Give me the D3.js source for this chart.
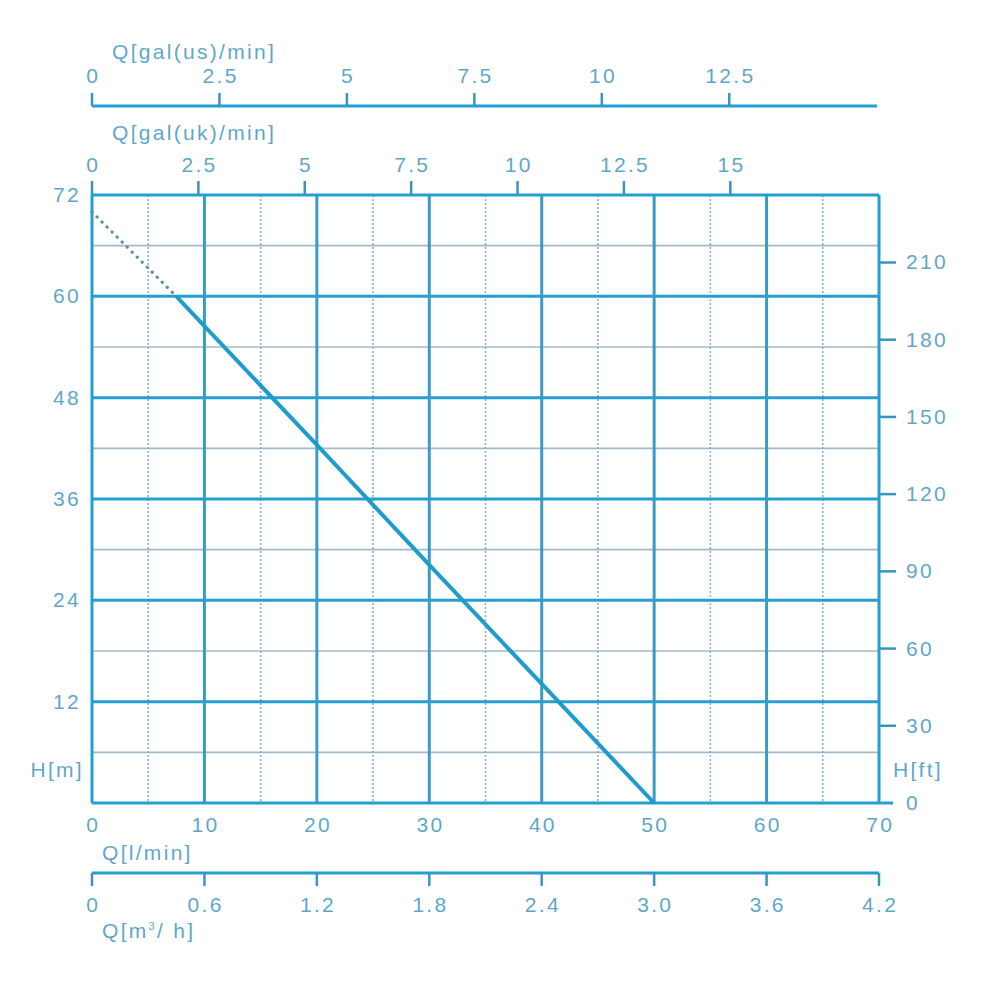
<!DOCTYPE html>
<html><head><meta charset="utf-8">
<script src="https://cdn.jsdelivr.net/npm/d3@7/dist/d3.min.js"></script>
<style>body{margin:0;background:#fff}svg{display:block}text{font-family:"Liberation Sans",Arial,sans-serif;font-size:21px;fill:#5fa7c8;letter-spacing:2.3px}</style>
</head><body>
<svg id="c" width="1000" height="1000"></svg>
<script>
// ---- data ----
const flowTicksLmin = [0,10,20,30,40,50,60,70];
const flowMinorLmin = [5,15,25,35,45,55,65];
const headTicksM = [12,24,36,48,60,72];
const headMinorM = [6,18,30,42,54,66];
const headTicksFt = [30,60,90,120,150,180,210];
const galUsTicks = [0,2.5,5,7.5,10,12.5];
const galUkTicks = [0,2.5,5,7.5,10,12.5,15];
const m3hTicks = [0,0.6,1.2,1.8,2.4,3.0,3.6,4.2];
const m3hLabels = ["0","0.6","1.2","1.8","2.4","3.0","3.6","4.2"];
// pump curve (Q l/min, H m)
const curveDotted = [[0,70],[7.5,60]];
const curveSolid = [[7.5,60],[20,42.4],[30,28.2],[40,14.1],[50,0]];
// conversion factors as drawn on the chart
const litresPerGalUsAxis = 4.546;
const litresPerGalUkAxis = 3.785;
const ftPerM = 3.28084;

const svg = d3.select("#c");
const L=92,R=879,T=195,B=803;
const LS=1.15; // half letter-spacing offset for centred labels
const x = d3.scaleLinear([0,70],[L,R]);
const y = d3.scaleLinear([0,72],[B,T]);
const yFt = d3.scaleLinear([0,72*ftPerM],[B,T]);
const xUs = d3.scaleLinear([0,70/litresPerGalUsAxis],[L,R-2]);
const xUk = d3.scaleLinear([0,70/litresPerGalUkAxis],[L,R]);
const xM3 = d3.scaleLinear([0,4.2],[L,R]);

const major="#259fd3", minorH="#9fbccb", minorV="#7fb6c9";

// minor gridlines
svg.append("g").selectAll("line").data(headMinorM).join("line")
 .attr("x1",L).attr("x2",R).attr("y1",d=>y(d)).attr("y2",d=>y(d))
 .attr("stroke",minorH).attr("stroke-width",1.6);
svg.append("g").selectAll("line").data(flowMinorLmin).join("line")
 .attr("x1",d=>x(d)).attr("x2",d=>x(d)).attr("y1",T).attr("y2",B)
 .attr("stroke",minorV).attr("stroke-width",1.6).attr("stroke-dasharray","2,2");
// major gridlines
svg.append("g").selectAll("line").data(headTicksM.filter(d=>d<72)).join("line")
 .attr("x1",L).attr("x2",R).attr("y1",d=>y(d)).attr("y2",d=>y(d))
 .attr("stroke",major).attr("stroke-width",3);
svg.append("g").selectAll("line").data(flowTicksLmin.filter(d=>d>0&&d<70)).join("line")
 .attr("x1",d=>x(d)).attr("x2",d=>x(d)).attr("y1",T).attr("y2",B)
 .attr("stroke","#3a9cc6").attr("stroke-width",3);
// frame
svg.append("line").attr("x1",L).attr("x2",R).attr("y1",T).attr("y2",T).attr("stroke",major).attr("stroke-width",3);
svg.append("line").attr("x1",L).attr("x2",L).attr("y1",T).attr("y2",B).attr("stroke",major).attr("stroke-width",3);
svg.append("line").attr("x1",R).attr("x2",R).attr("y1",T).attr("y2",B).attr("stroke",major).attr("stroke-width",3);
svg.append("line").attr("x1",L).attr("x2",R+14).attr("y1",B).attr("y2",B).attr("stroke",major).attr("stroke-width",3);

// curve
const line = d3.line().x(d=>x(d[0])).y(d=>y(d[1]));
svg.append("path").attr("d",line(curveDotted)).attr("fill","none").attr("stroke","#5a8fa6")
 .attr("stroke-width",3.2).attr("stroke-dasharray","0.1,7").attr("stroke-linecap","round");
svg.append("path").attr("d",line(curveSolid)).attr("fill","none").attr("stroke","#1e9ccb").attr("stroke-width",4);

// left axis labels
svg.append("g").selectAll("text").data(headTicksM).join("text")
 .attr("x",81).attr("y",d=>y(d)+7).attr("text-anchor","end").text(d=>d);
svg.append("text").attr("x",84).attr("y",777).attr("text-anchor","end").text("H[m]");
// right axis
svg.append("g").selectAll("line").data(headTicksFt).join("line")
 .attr("x1",R).attr("x2",R+17).attr("y1",d=>yFt(d)).attr("y2",d=>yFt(d))
 .attr("stroke","#3a95bb").attr("stroke-width",2.5);
svg.append("g").selectAll("text").data([0].concat(headTicksFt)).join("text")
 .attr("x",906).attr("y",d=>yFt(d)+7).text(d=>d);
svg.append("text").attr("x",893).attr("y",777).text("H[ft]");

// bottom l/min labels
svg.append("g").selectAll("text").data(flowTicksLmin).join("text")
 .attr("x",d=>x(d)+LS).attr("y",832).attr("text-anchor","middle").text(d=>d);
svg.append("text").attr("x",102).attr("y",860).text("Q[l/min]");
// m3/h axis
svg.append("line").attr("x1",xM3(0)).attr("x2",xM3(4.2)).attr("y1",873).attr("y2",873).attr("stroke",major).attr("stroke-width",3);
svg.append("g").selectAll("line").data(m3hTicks).join("line")
 .attr("x1",d=>xM3(d)).attr("x2",d=>xM3(d)).attr("y1",873).attr("y2",886)
 .attr("stroke","#3a95bb").attr("stroke-width",2.5);
svg.append("g").selectAll("text").data(m3hTicks).join("text")
 .attr("x",d=>xM3(d)+LS).attr("y",912).attr("text-anchor","middle").text((d,i)=>m3hLabels[i]);
const t=svg.append("text").attr("x",102).attr("y",938);
t.append("tspan").text("Q[m");
t.append("tspan").attr("font-size","11px").attr("dy",-8).text("3");
t.append("tspan").attr("dy",8).text("/ h]");

// top gal(uk) axis (plot top border)
svg.append("g").selectAll("line").data(galUkTicks).join("line")
 .attr("x1",d=>xUk(d)).attr("x2",d=>xUk(d)).attr("y1",T).attr("y2",181)
 .attr("stroke","#3a95bb").attr("stroke-width",2.5);
svg.append("g").selectAll("text").data(galUkTicks).join("text")
 .attr("x",d=>xUk(d)+LS).attr("y",172).attr("text-anchor","middle").text(d=>d);
svg.append("text").attr("x",112).attr("y",140).text("Q[gal(uk)/min]");
// top gal(us) axis
svg.append("line").attr("x1",L).attr("x2",R-2).attr("y1",106).attr("y2",106).attr("stroke",major).attr("stroke-width",3);
svg.append("g").selectAll("line").data(galUsTicks).join("line")
 .attr("x1",d=>xUs(d)).attr("x2",d=>xUs(d)).attr("y1",106).attr("y2",93)
 .attr("stroke","#3a95bb").attr("stroke-width",2.5);
svg.append("g").selectAll("text").data(galUsTicks).join("text")
 .attr("x",d=>xUs(d)+LS).attr("y",83).attr("text-anchor","middle").text(d=>d);
svg.append("text").attr("x",112).attr("y",59).text("Q[gal(us)/min]");
</script>
</body></html>
